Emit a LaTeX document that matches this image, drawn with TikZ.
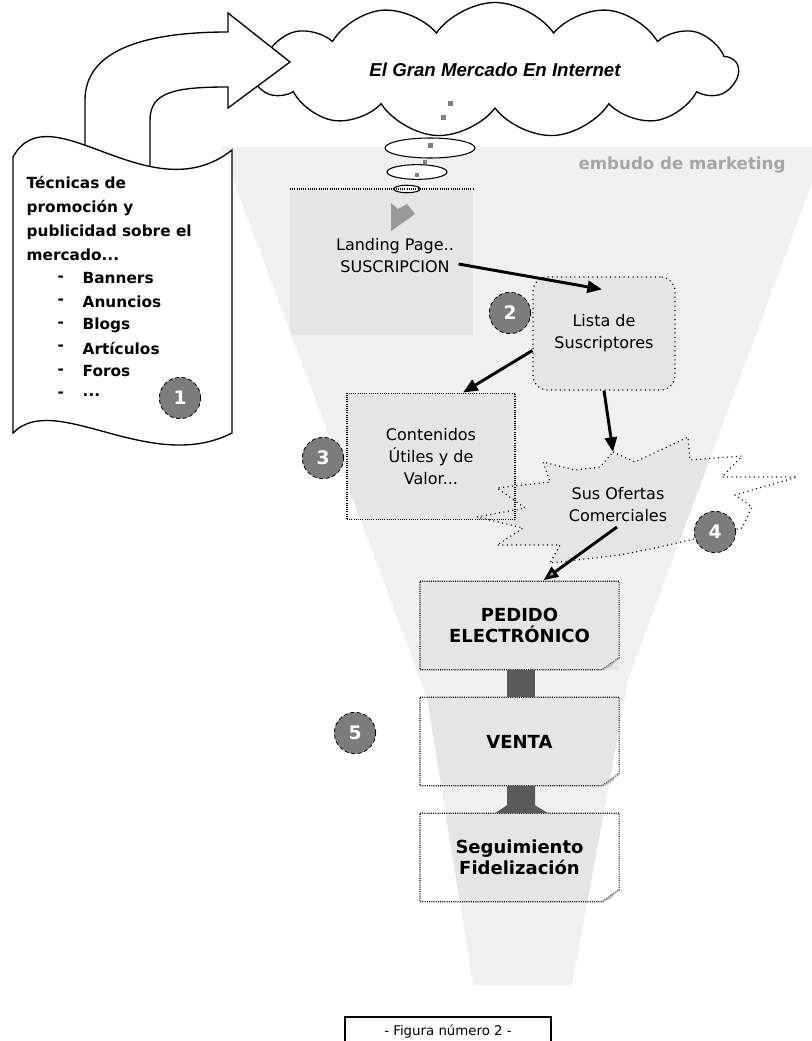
\documentclass[tikz,border=0pt]{standalone}
\usepackage{fontspec}
\setmainfont{DejaVu Sans}
\newfontfamily\cloudfont{Liberation Sans}
\usetikzlibrary{positioning, arrows.meta, shapes.symbols, calc}
\pgfdeclarelayer{background}
\pgfsetlayers{background,main}
\definecolor{funnel}{RGB}{240,240,240}
\definecolor{boxfill}{RGB}{229,229,229}
\definecolor{badge}{RGB}{124,124,124}
\definecolor{tagtext}{RGB}{166,166,166}
\newcommand\funnelshape{(221,147) -- (812,147) -- (812,183) -- (628,680) -- (572,985) -- (473,985) -- (427,697) -- cycle}
\newcommand\burstshape{(613,452) -- (635,462) -- (688,437) -- (690,460) -- (742,456) -- (722,477) -- (797,477) -- (735,495) -- (752,507) -- (742,528) -- (690,540) -- (655,548) -- (620,555) -- (550,563) -- (560,545) -- (497,545) -- (523,528) -- (477,517) -- (525,508) -- (497,488) -- (550,482) -- (543,462) -- (575,470) -- (600,467) -- cycle}

\begin{document}
\begin{tikzpicture}[
    x=0.75pt, y=-0.75pt,
    outline/.style={draw, line width=1pt, fill=white},
    dotline/.style={draw, line width=0.9pt, dash pattern=on 0.75pt off 0.9pt},
    loosedots/.style={draw, line width=0.9pt, dash pattern=on 0.75pt off 2.6pt},
    cloudbox/.style={cloud, draw, fill=white, line width=1pt, cloud puffs=13, cloud puff arc=110, aspect=4, minimum width=364pt, minimum height=86pt, font=\cloudfont\fontsize{14}{16}\selectfont\bfseries\itshape},
    scrolltext/.style={anchor=west, font=\fontsize{11.5}{18}\selectfont\bfseries},
    note/.style={align=center, font=\fontsize{12}{16.5}\selectfont},
    stage/.style={minimum width=149pt, minimum height=66pt, align=center, font=\fontsize{13.5}{16}\selectfont\bfseries},
    badge/.style={circle, fill=badge, draw=black, densely dashed, line width=0.6pt, minimum size=31pt, inner sep=0pt, text=white, font=\fontsize{14}{14}\selectfont\bfseries},
    flow/.style={line width=2.2pt, -{Triangle[length=11pt, width=9pt]}},
    flowgray/.style={line width=2.2pt, -{Triangle[length=11pt, width=9pt, fill=gray!70]}},
    neck/.style={fill=black!65}
]
    \useasboundingbox (0,0) rectangle (812,1041);

    % cloud and the big bent arrow
    \node[cloudbox] (mercado) at (495,70) {El Gran Mercado En Internet};
    \draw[outline] (85,175) -- (85,100) .. controls (85,52) and (140,32) .. (228,32) -- (228,13) -- (290,62) -- (228,108) -- (228,87) .. controls (175,87) and (150,92) .. (150,120) -- (150,175) -- cycle;
    \draw[outline] (13,157) .. controls (50,90) and (150,215) .. (232,150) -- (232,433) .. controls (150,475) and (55,390) .. (13,433) -- cycle;

    \node[anchor=north west, align=left, font=\fontsize{11.5}{18}\selectfont\bfseries] (tecnicas) at (22,172) {Técnicas de\\promoción y\\publicidad sobre el\\mercado...};
    \foreach \word [count=\i] in {Banners, Anuncios, Blogs, Artículos, Foros} {
        \node[scrolltext] (dash\i) at (53,255+23.3*\i) {-};
        \node[scrolltext] (item\i) at (78,255+23.3*\i) {\word};
    }
    \node[scrolltext] (dash6) at (53,395) {-};
    \node[scrolltext] (item6) at (78,395) {...};

    % bubbles from the cloud
    \fill[gray] (448,101) rectangle (453,106);
    \fill[gray] (441,115) rectangle (446,120);
    \draw[outline, line width=0.8pt] (430,148) ellipse [x radius=33.75pt, y radius=7.5pt];
    \draw[outline, line width=0.8pt] (417,172) ellipse [x radius=22.5pt, y radius=5.5pt];
    \draw[outline, line width=0.8pt] (407,189) ellipse [x radius=10pt, y radius=2.8pt];
    \fill[gray] (428,143) rectangle (433,148);
    \fill[gray] (423,160) rectangle (427,164);
    \fill[gray] (415,173) rectangle (419,177);
    \fill[gray!80] (391,203) -- (398,209) -- (407,204) -- (415,214) -- (391,231) -- cycle;

    \node[font=\fontsize{12.5}{14}\selectfont\bfseries, text=tagtext] (embudo) at (682,165) {embudo de marketing};

    % funnel stages
    \draw[dotline] (290,189) -- (473,189);
    \node[note] (landing) at (395,256) {Landing Page..\\SUSCRIPCION};
    \node[note, loosedots, rounded corners=11pt, minimum width=106.5pt, minimum height=84.75pt] (lista) at (604,333.5) {Lista de\\Suscriptores};
    \node[note, dotline, minimum width=126pt, minimum height=95pt] (contenidos) at (431,456.5) {Contenidos\\Útiles y de\\Valor...};
    \draw[loosedots] \burstshape;
    \node[note] (ofertas) at (618,505) {Sus Ofertas\\Comerciales};
    \coordinate (oftop) at (613,452);

    \node[stage] (pedido) at (519.5,625.5) {PEDIDO\\ELECTRÓNICO};
    \node[stage] (venta) at (519.5,741.5) {VENTA};
    \node[stage] (seguir) at (519.5,857.5) {Seguimiento\\Fidelización};
    \foreach \n in {pedido, venta, seguir} {
        \draw[dotline] (\n.north west) -- (\n.north east) -- ($(\n.south east)+(0,-12)$) -- ($(\n.south east)+(-17,0)$) -- (\n.south west) -- cycle;
        \fill[gray!60] ($(\n.south east)+(-17,0)$) -- ($(\n.south east)+(0,-12)$) -- ($(\n.south east)+(-9,-3)$) -- cycle;
    }

    % connectors
    \draw[flow] ($(landing.east)+(0,8)$) -- ($(lista.north)+(-2,13)$);
    \draw[flow] ($(lista.west)+(0,17)$) -- ($(contenidos.north)+(32,0)$);
    \draw[flow] (lista.south) -- (oftop);
    \draw[flowgray] ($(ofertas.center)+(-1,22)$) -- ($(pedido.north)+(24,-1)$);
    \fill[neck] ($(pedido.south)+(-12.5,0)$) rectangle ($(venta.north)+(15.5,0)$);
    \fill[neck] ($(venta.south)+(-12.5,0)$) -- ($(venta.south)+(15.5,0)$) -- ($(seguir.north)+(15.5,-8)$) -- ($(seguir.north)+(28.5,0)$) -- ($(seguir.north)+(-24.5,0)$) -- ($(seguir.north)+(-12.5,-8)$) -- cycle;

    \node[badge] (b1) at (180,398) {1};
    \node[badge] (b2) at (510,313) {2};
    \node[badge] (b3) at (323,458) {3};
    \node[badge] (b4) at (715,532) {4};
    \node[badge] (b5) at (355,733) {5};

    \node[draw, line width=0.8pt, minimum width=154.5pt, minimum height=22.5pt, font=\fontsize{10}{12}\selectfont] (figura) at (448,1032) {- Figura número 2 -};

    \begin{pgfonlayer}{background}
        \fill[funnel] \funnelshape;
        \begin{scope}
            \clip \funnelshape;
            \fill[boxfill] (290,189) rectangle (473,335);
            \fill[boxfill, rounded corners=11pt] (lista.north west) rectangle (lista.south east);
            \fill[boxfill] (contenidos.north west) rectangle (contenidos.south east);
            \fill[boxfill] \burstshape;
            \foreach \n in {pedido, venta, seguir}
                \fill[boxfill] (\n.north west) rectangle (\n.south east);
        \end{scope}
    \end{pgfonlayer}
\end{tikzpicture}
\end{document}
